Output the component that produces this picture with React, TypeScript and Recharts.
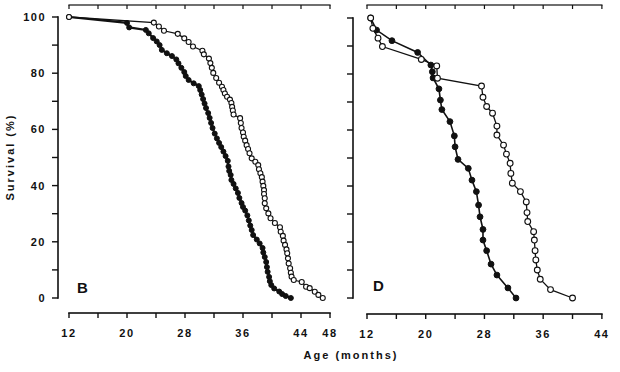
import { LineChart, Line, XAxis, YAxis } from 'recharts';

// panel B: ages (months) and survival (%)
const bOpenAge = [
  12.0, 23.7, 24.4, 25.1, 27.0, 27.9, 28.5, 29.1, 30.4, 30.6, 31.3, 31.5, 31.7, 31.9, 32.3,
  32.7, 33.1, 33.3, 33.5, 33.8, 34.2, 34.4, 34.5, 34.6, 34.7, 35.6, 35.7, 35.8, 36.0, 36.1,
  36.3, 36.5, 36.7, 36.9, 37.2, 37.7, 38.1, 38.2, 38.4, 38.6, 38.7, 38.8, 38.9, 38.9, 39.0,
  39.0, 39.2, 39.5, 39.8, 40.4, 41.1, 41.2, 41.5, 41.6, 41.8, 42.0, 42.1, 42.2, 42.3, 42.5,
  42.6, 42.7, 43.0, 44.1, 44.7, 45.2, 45.9, 46.4, 47.0,
];
const bOpenSurv = [
  100, 98.0, 96.6, 95.1, 94.0, 92.4, 91.1, 89.5, 88.0, 86.7, 85.2, 83.6, 81.9, 80.1, 78.3,
  76.6, 75.2, 74.0, 72.8, 71.6, 70.6, 69.4, 68.0, 66.7, 65.3, 64.0, 62.3, 60.5, 58.9, 57.4,
  56.0, 54.4, 53.0, 51.5, 49.7, 48.5, 47.3, 45.8, 44.4, 43.0, 41.4, 39.9, 38.4, 37.0, 35.5,
  33.7, 31.9, 30.1, 28.4, 26.7, 25.2, 23.6, 22.1, 20.4, 18.9, 17.3, 15.9, 14.1, 12.3, 10.6,
  9.0, 7.6, 6.4, 5.7, 4.0, 3.5, 2.2, 1.1, 0,
];
const bFilledAge = [
  12.0, 20.0, 20.3, 22.6, 23.0, 23.6, 24.1, 24.5, 24.8, 25.5, 26.2, 26.8, 27.1, 27.5, 27.9,
  28.1, 28.5, 29.2, 29.9, 30.1, 30.3, 30.5, 30.7, 30.9, 31.2, 31.4, 31.6, 31.8, 32.1, 32.4,
  32.7, 33.0, 33.3, 33.6, 33.9, 34.0, 34.1, 34.3, 34.4, 34.7, 35.0, 35.3, 35.5, 35.8, 36.0,
  36.3, 36.6, 36.8, 37.0, 37.2, 37.4, 37.9, 38.3, 38.7, 38.8, 39.0, 39.2, 39.3, 39.4, 39.6,
  39.7, 39.9, 40.3, 41.0, 41.4, 41.9, 42.6,
];
const bFilledSurv = [
  100, 97.9, 96.3, 95.4, 94.2, 92.5, 91.3, 90.0, 88.3, 87.1, 86.1, 84.9, 83.5, 81.9, 80.4,
  79.0, 77.6, 76.4, 75.4, 74.0, 72.4, 70.8, 69.2, 67.6, 65.8, 64.1, 62.3, 60.5, 58.5, 56.8,
  55.2, 53.7, 52.1, 50.5, 48.8, 46.8, 45.2, 43.8, 42.0, 40.6, 39.0, 37.4, 35.6, 33.8, 32.4,
  31.1, 29.4, 27.6, 25.8, 24.2, 22.4, 20.8, 19.4, 17.8, 16.2, 14.6, 12.8, 11.0, 9.3, 7.5,
  6.0, 4.6, 3.4, 2.3, 1.4, 0.7, 0,
];

// panel D
const dOpenAge = [
  12.5, 12.8, 13.5, 14.1, 19.4, 21.5, 21.6, 27.6, 27.8, 28.3, 29.1, 29.7, 29.7, 30.6, 31.0,
  31.5, 31.6, 31.8, 32.9, 33.7, 33.8, 33.9, 34.7, 34.8, 34.9, 35.0, 35.2, 35.6, 37.0, 40.0,
];
const dOpenSurv = [
  100, 96.3, 92.8, 89.8, 85.2, 82.9, 78.5, 75.7, 71.7, 68.4, 66.0, 61.4, 58.2, 54.6, 51.4,
  48.1, 44.5, 41.0, 38.0, 34.3, 30.5, 27.3, 23.7, 20.7, 16.9, 13.6, 10.0, 6.7, 3.0, 0,
];
const dFilledAge = [
  12.5, 13.3, 15.4, 18.9, 20.7, 20.9, 21.0, 21.8, 22.0, 22.2, 23.3, 23.9, 24.0, 24.4, 25.8,
  26.3, 26.9, 27.2, 27.4, 27.8, 27.8, 28.3, 28.9, 29.7, 31.2, 32.3,
];
const dFilledSurv = [
  100, 95.7, 91.9, 87.7, 83.2, 80.8, 78.6, 74.7, 70.7, 67.3, 63.0, 57.9, 54.0, 49.5, 46.3,
  42.1, 38.0, 33.2, 29.0, 24.5, 20.7, 16.9, 12.1, 8.2, 3.6, 0,
];

const bTicksX = [12, 16, 20, 24, 28, 32, 36, 40, 44, 48];
const bLabelsX = [12, 20, 28, 36, 44, 48];
const dTicksX = [12, 16, 20, 24, 28, 32, 36, 40, 44];
const dLabelsX = [12, 20, 28, 36, 44];
const yTicks = [0, 10, 20, 30, 40, 50, 60, 70, 80, 90, 100];
const yLabels = [0, 20, 40, 60, 80, 100];

const toPoints = (ages: number[], surv: number[]) =>
  ages.map((age, i) => ({ age, surv: surv[i] }));

const INK = '#111';
const H = 372;
const X_AXIS_H = 30;

type PanelProps = {
  open: { age: number; surv: number }[];
  filled: { age: number; surv: number }[];
  xDomain: [number, number];
  yDomain: [number, number];
  xTicks: number[];
  xLabels: number[];
  showY: boolean;
  width: number;
  yWidth: number;
  margin: { top: number; right: number; bottom: number; left: number };
  dotR: number;
  filledWidth: number;
};

function Panel(p: PanelProps) {
  const left = p.margin.left + p.yWidth;
  const top = p.margin.top;
  const bottom = H - p.margin.bottom - X_AXIS_H;
  const right = p.width - p.margin.right;
  // same linear mapping as the chart's axes, for the detached frame
  const sx = (v: number) =>
    left + ((v - p.xDomain[0]) / (p.xDomain[1] - p.xDomain[0])) * (right - left);
  const sy = (v: number) =>
    top + ((p.yDomain[1] - v) / (p.yDomain[1] - p.yDomain[0])) * (bottom - top);
  const x0 = sx(p.xTicks[0]);
  const x1 = sx(p.xTicks[p.xTicks.length - 1]);

  return (
    <div style={{ position: 'relative', width: p.width, height: H }}>
      <LineChart width={p.width} height={H} margin={p.margin}>
        <XAxis
          type="number"
          dataKey="age"
          domain={p.xDomain}
          allowDataOverflow
          ticks={p.xTicks}
          height={X_AXIS_H}
          axisLine={false}
          tickLine={false}
          tick={false}
        />
        <YAxis
          type="number"
          domain={p.yDomain}
          allowDataOverflow
          ticks={yTicks}
          width={p.yWidth}
          axisLine={false}
          tickLine={false}
          tick={false}
        />
        <Line
          data={p.filled}
          dataKey="surv"
          stroke={INK}
          strokeWidth={p.filledWidth}
          dot={{ r: p.dotR, fill: INK, stroke: INK, strokeWidth: 1 }}
          isAnimationActive={false}
        />
        <Line
          data={p.open}
          dataKey="surv"
          stroke={INK}
          strokeWidth={1.3}
          dot={{ r: p.dotR, fill: '#fff', stroke: INK, strokeWidth: 1.1 }}
          isAnimationActive={false}
        />
      </LineChart>
      <svg
        width={p.width}
        height={H}
        style={{ position: 'absolute', left: 0, top: 0, pointerEvents: 'none' }}
      >
        <g fill={INK} stroke="none">
          <rect x={left - 0.8} y={sy(100) - 0.8} width={1.6} height={sy(0) - sy(100) + 1.6} />
          <rect x={x0 - 0.8} y={bottom - 0.8} width={x1 - x0 + 1.6} height={1.6} />
          <rect x={x0 - 0.6} y={top - 0.6} width={x1 - x0 + 1.2} height={1.2} />
          {yTicks.map((v) => (
            <rect key={`y${v}`} x={left - 6} y={sy(v) - 0.7} width={6} height={1.4} />
          ))}
          {p.xTicks.map((v) => (
            <rect key={`x${v}`} x={sx(v) - 0.7} y={bottom} width={1.4} height={5} />
          ))}
          {p.xTicks.map((v) => (
            <rect key={`t${v}`} x={sx(v) - 0.6} y={top} width={1.2} height={4} />
          ))}
        </g>
        <g fill={INK} fontSize={11}>
          {p.showY &&
            yLabels.map((v) => (
              <text key={`yl${v}`} x={left - 12} y={sy(v) + 4} textAnchor="end">
                {v}
              </text>
            ))}
          {p.xLabels.map((v) => (
            <text key={`xl${v}`} x={sx(v)} y={bottom + 24} textAnchor="middle">
              {v}
            </text>
          ))}
        </g>
      </svg>
    </div>
  );
}

export default function App() {
  return (
    <div
      style={{
        position: 'absolute',
        left: 0,
        top: 0,
        width: 620,
        height: 372,
        background: '#fff',
        fontFamily: "'Liberation Sans', Arial, sans-serif",
        fontWeight: 700,
        letterSpacing: '1.5px',
        overflow: 'hidden',
      }}
    >
      <div style={{ position: 'absolute', left: 0, top: 0 }}>
        <Panel
          open={toPoints(bOpenAge, bOpenSurv)}
          filled={toPoints(bFilledAge, bFilledSurv)}
          xDomain={[10.483, 48.414]}
          yDomain={[-5.34, 104.27]}
          xTicks={bTicksX}
          xLabels={bLabelsX}
          showY
          width={345}
          yWidth={58}
          margin={{ top: 5, right: 12, bottom: 29, left: 0 }}
          dotR={2.5}
          filledWidth={2.2}
        />
      </div>
      <div style={{ position: 'absolute', left: 300, top: 0 }}>
        <Panel
          open={toPoints(dOpenAge, dOpenSurv)}
          filled={toPoints(dFilledAge, dFilledSurv)}
          xDomain={[10.093, 44.56]}
          yDomain={[-5.71, 104.64]}
          xTicks={dTicksX}
          xLabels={dLabelsX}
          showY={false}
          width={320}
          yWidth={53}
          margin={{ top: 5, right: 14, bottom: 28, left: 0 }}
          dotR={2.9}
          filledWidth={1.6}
        />
      </div>
      <svg
        width={620}
        height={372}
        style={{ position: 'absolute', left: 0, top: 0, pointerEvents: 'none' }}
      >
        <text x={77} y={293} fontSize={15} fill={INK} letterSpacing={0}>B</text>
        <text x={373} y={291} fontSize={15} fill={INK} letterSpacing={0}>D</text>
        <text x={351} y={359} fontSize={11} fill={INK} textAnchor="middle" letterSpacing={2}>
          Age (months)
        </text>
        <text
          x={0}
          y={0}
          fontSize={11}
          fill={INK}
          textAnchor="middle"
          letterSpacing={2}
          transform="translate(14 157) rotate(-90)"
        >
          Survival (%)
        </text>
      </svg>
    </div>
  );
}
